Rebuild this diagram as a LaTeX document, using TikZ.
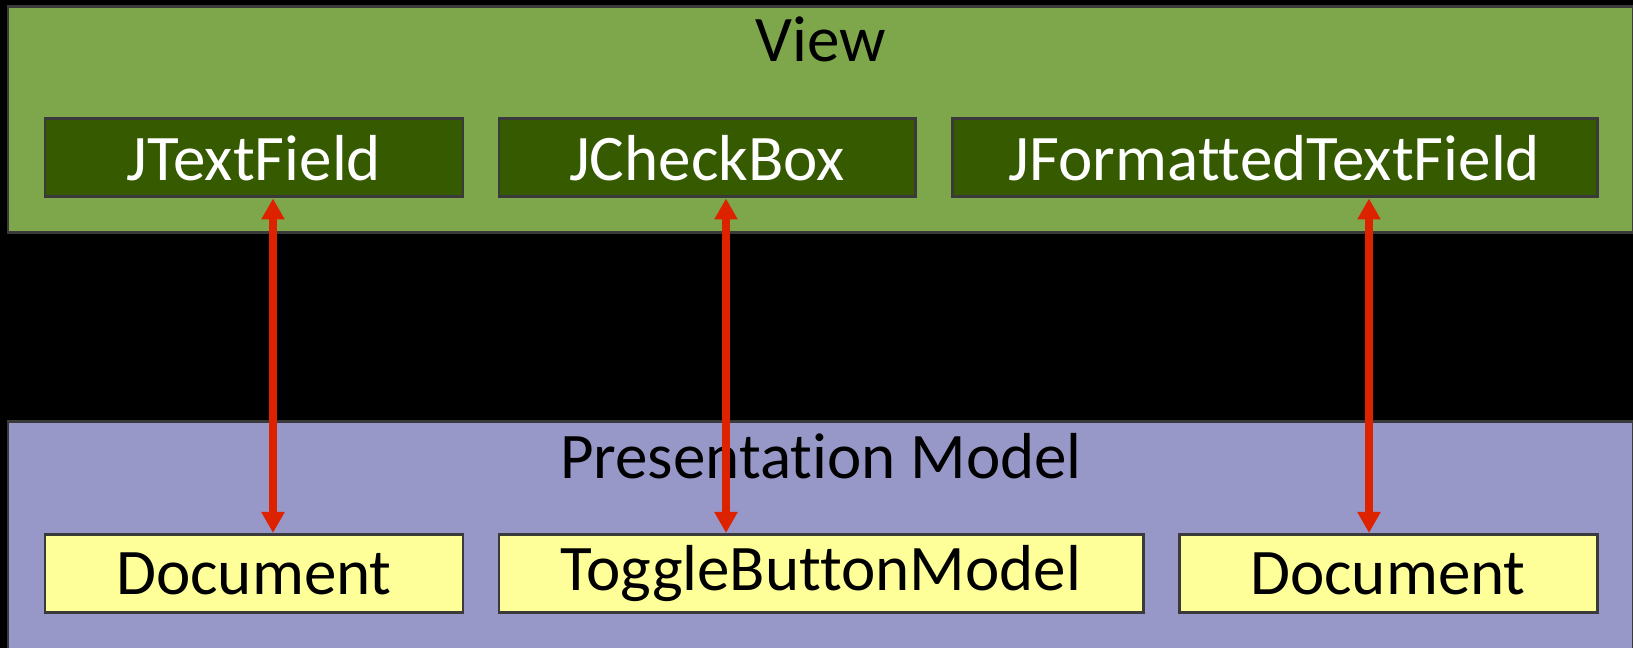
\documentclass[tikz,border=0pt]{standalone}
\usepackage{fontspec}
\setmainfont[RawFeature={-liga;-clig;-dlig;-calt}]{Carlito}
\usetikzlibrary{
  arrows.meta,
  positioning
}
\definecolor{viewbg}{RGB}{126,166,75}
\definecolor{widget}{RGB}{53,90,0}
\definecolor{pmbg}{RGB}{152,152,200}
\definecolor{modelbg}{RGB}{255,255,153}
\definecolor{edge}{RGB}{58,58,58}
\definecolor{link}{RGB}{221,34,0}

\begin{document}
\begin{tikzpicture}[
  every node/.style={font=\fontsize{18.5}{20}\selectfont},
  layer/.style={draw=edge, line width=0.85pt, minimum width=16.25cm, inner sep=0pt},
  widgetbox/.style={draw=edge, line width=0.85pt, fill=widget, text=white,
                    minimum height=0.78cm, inner sep=0pt},
  modelbox/.style={draw=edge, line width=0.85pt, fill=modelbg,
                   minimum height=0.78cm, inner sep=0pt},
  bind/.style={<->, link, line width=2pt},
  >={Triangle[length=2.1mm, width=2.2mm]}
]

\useasboundingbox (0,0) rectangle (16.33,6.48);
\fill[black] (0,0) rectangle (16.33,6.48);

% ── View ──
\node[layer, fill=viewbg, minimum height=2.26cm] (view) at (8.205, 5.28) {};
\node[anchor=base] (viewtitle) at (8.21, 5.86) {View};

\node[widgetbox, minimum width=4.18cm] (jtf)  at (2.54, 4.90)   {JTextField};
\node[widgetbox, minimum width=4.16cm] (jcb)  at (7.07, 4.90)   {JCheckBox};
\node[widgetbox, minimum width=6.45cm] (jftf) at (12.745, 4.90) {JFormattedTextField};

% ── Presentation Model ──
\node[layer, fill=pmbg, minimum height=2.32cm] (pm) at (8.205, 1.10) {};
\node[anchor=base] (pmtitle) at (8.21, 1.69) {Presentation Model};

\node[modelbox, minimum width=4.18cm] (doc1) at (2.54, 0.745)  {Document};
\node[modelbox, minimum width=6.44cm] (tbm)  at (8.21, 0.745)  {ToggleButtonModel};
\node[modelbox, minimum width=4.18cm] (doc2) at (13.88, 0.745) {Document};

% ── Bindings ──
\draw[bind] ([xshift=1.9mm]jtf.south) -- ([xshift=1.9mm]doc1.north);
\draw[bind] ([xshift=1.9mm]jcb.south) -- ([xshift=1.9mm]jcb.south |- tbm.north);
\draw[bind] ([xshift=-1.9mm]doc2.north |- jftf.south) -- ([xshift=-1.9mm]doc2.north);

\end{tikzpicture}
\end{document}
